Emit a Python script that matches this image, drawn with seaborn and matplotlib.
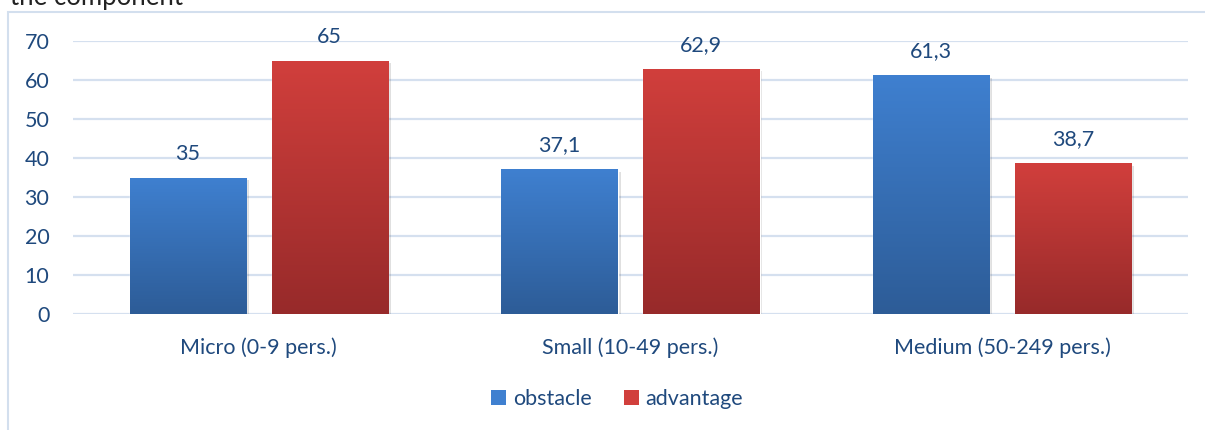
import numpy as np
import pandas as pd
import matplotlib
matplotlib.use("Agg")
import matplotlib.pyplot as plt
import seaborn as sns
from matplotlib.colors import LinearSegmentedColormap
from matplotlib.patches import Rectangle, Patch
import matplotlib.patheffects as pe

# data
categories = ["Micro (0-9 pers.)", "Small (10-49 pers.)", "Medium (50-249 pers.)"]
series = ["obstacle", "advantage"]
obstacle = [35, 37.1, 61.3]
advantage = [65, 62.9, 38.7]
y_ticks = [0, 10, 20, 30, 40, 50, 60, 70]

df = pd.DataFrame({
    "size": categories * 2,
    "share": obstacle + advantage,
    "type": [series[0]] * 3 + [series[1]] * 3,
})

sns.set_style("white")
plt.rcParams["font.family"] = ["Lato", "DejaVu Sans"]

text_c = "#1F497D"
grid_c = "#D5E0EF"
fs = 15.5
grads = {
    "obstacle": ("#3F80D0", "#2D5C97"),
    "advantage": ("#D13F3C", "#972A2A"),
}

W, H = 1205, 430
fig = plt.figure(figsize=(W / 100, H / 100), dpi=100)
ax = fig.add_axes([73 / W, 1 - 314 / H, 1115 / W, 273 / H])

sns.barplot(data=df, x="size", y="share", hue="type", hue_order=series,
            palette=[grads[s][0] for s in series], width=0.763, gap=0.18,
            legend=False, ax=ax, zorder=3)

ax.set_yticks(y_ticks)
ax.yaxis.grid(True, color=grid_c, lw=1.6)
ax.set_axisbelow(True)
for s in ax.spines.values():
    s.set_visible(False)
ax.tick_params(axis="both", length=0, labelsize=fs, labelcolor=text_c)
ax.tick_params(axis="y", pad=17)
ax.tick_params(axis="x", pad=17)
ax.set_xlabel("")
ax.set_ylabel("")

# vertical gradient fill for each bar, clipped to the bar shape
for cont, name in zip(ax.containers, series):
    cmap = LinearSegmentedColormap.from_list(name, [grads[name][1], grads[name][0]])
    for bar in cont:
        x0, y0 = bar.get_x(), bar.get_y()
        w, h = bar.get_width(), bar.get_height()
        bar.set_path_effects([pe.SimplePatchShadow(offset=(2, -2), alpha=0.12, shadow_rgbFace="#000000"),
                              pe.Normal()])
        img = ax.imshow(np.linspace(0, 1, 256).reshape(-1, 1), cmap=cmap,
                        extent=[x0, x0 + w, y0, y0 + h], origin="lower",
                        aspect="auto", zorder=4)
        img.set_clip_path(bar)
    labels = [f"{v:g}".replace(".", ",") for v in cont.datavalues]
    ax.bar_label(cont, labels=labels, padding=10, fontsize=fs, color=text_c, zorder=5)

ax.set_xlim(-0.5, 2.5)
ax.set_ylim(0, 70)

# chart frame (partly cropped in the reference)
fig.patches.append(Rectangle((8 / W, -0.2), 1.5, 1.2 - 12 / H, transform=fig.transFigure,
                             fill=False, edgecolor="#D3DFEE", lw=1.5))
fig.text(10 / W, 1 - 5 / H, "the component", fontsize=18.5, color="#222222", va="baseline")

handles = [Patch(facecolor=grads[s][0], edgecolor="none", label=s) for s in series]
fig.legend(handles=handles, loc="center", bbox_to_anchor=(617 / W, 1 - 399 / H),
           ncol=2, frameon=False, fontsize=fs, labelcolor=text_c,
           handlelength=0.7, handleheight=0.7, handletextpad=0.3, columnspacing=1.5)

fig.savefig("out.png", dpi=100)
